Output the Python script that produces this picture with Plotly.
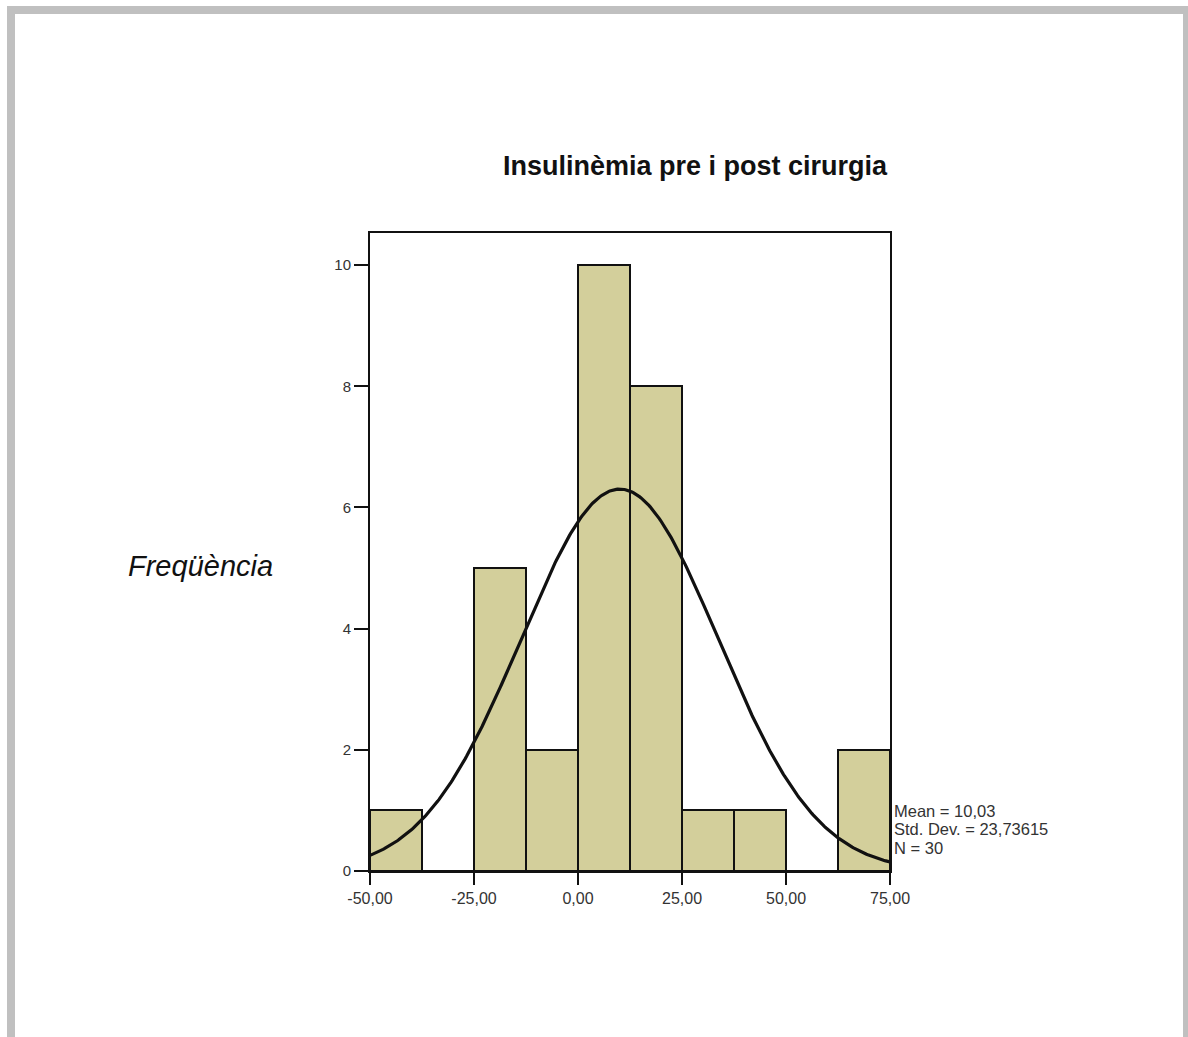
import numpy as np
import plotly.graph_objects as go

# Histogram bins (lower edges, width 12.5) and frequencies
bin_left = [-50.0, -37.5, -25.0, -12.5, 0.0, 12.5, 25.0, 37.5, 50.0, 62.5]
bin_width = 12.5
counts = [1, 0, 5, 2, 10, 8, 1, 1, 0, 2]

# Descriptive statistics shown beside the chart
mean_val = 10.03
std_dev = 23.73615
n_obs = 30

x_ticks = [-50, -25, 0, 25, 50, 75]
x_tick_text = ["-50,00", "-25,00", "0,00", "25,00", "50,00", "75,00"]
y_ticks = [0, 2, 4, 6, 8, 10]

W, H = 1188, 1037
L, R, T, B = 370, 890, 233, 871  # plot area in pixels


def px(x):
    return (x - L) / (R - L)


def py(y):
    return (B - y) / (B - T)


def comma(v, nd):
    return f"{v:.{nd}f}".replace(".", ",")


centers = [b + bin_width / 2 for b in bin_left]

# Fitted normal curve scaled to the histogram
xs = np.linspace(-50, 75, 400)
ys = n_obs * bin_width / (std_dev * np.sqrt(2 * np.pi)) * np.exp(-0.5 * ((xs - mean_val) / std_dev) ** 2)

fig = go.Figure()
fig.add_trace(go.Bar(
    x=centers, y=counts, width=bin_width,
    marker=dict(color="#d3cf9b", line=dict(color="#111111", width=2)),
    hoverinfo="skip",
))
fig.add_trace(go.Scatter(
    x=xs, y=ys, mode="lines",
    line=dict(color="#111111", width=3.2),
    hoverinfo="skip",
))

fig.update_layout(
    width=W, height=H,
    margin=dict(l=L, r=W - R, t=T, b=H - B, pad=0),
    paper_bgcolor="white", plot_bgcolor="white",
    showlegend=False,
    font=dict(family="Liberation Sans, Arial, sans-serif", color="#333333"),
    bargap=0,
)
fig.update_xaxes(
    range=[-50, 75], tickvals=x_ticks, ticktext=x_tick_text,
    ticks="outside", ticklen=12, tickwidth=1.6, tickcolor="#111111",
    showline=True, linecolor="#111111", linewidth=2, mirror=True,
    showgrid=False, zeroline=False,
    tickfont=dict(size=16, color="#333333"),
)
fig.update_yaxes(
    range=[0, 10.53], tickvals=y_ticks,
    ticks="outside", ticklen=14, tickwidth=1.6, tickcolor="#111111",
    showline=True, linecolor="#111111", linewidth=2, mirror=True,
    showgrid=False, zeroline=False,
    tickfont=dict(size=15, color="#333333"),
)

# Page frame
fig.add_shape(type="rect", xref="paper", yref="paper",
              x0=px(11), x1=px(1187), y0=py(1060), y1=py(10),
              line=dict(color="#c0c0c0", width=8), fillcolor="rgba(0,0,0,0)", layer="below")

annotations = [
    dict(text="<b>Insulinèmia pre i post cirurgia</b>", x=px(695), y=py(166),
         xanchor="center", yanchor="middle", font=dict(size=27, color="#111111")),
    dict(text="<i>Freqüència</i>", x=px(126), y=py(566),
         xanchor="left", yanchor="middle", font=dict(size=29, color="#111111")),
    dict(text=f"Mean = {comma(mean_val, 2)}", x=px(892), y=py(811),
         xanchor="left", yanchor="middle", font=dict(size=16.5, color="#333333")),
    dict(text=f"Std. Dev. = {comma(std_dev, 5)}", x=px(892), y=py(829),
         xanchor="left", yanchor="middle", font=dict(size=16.5, color="#333333")),
    dict(text=f"N = {n_obs}", x=px(892), y=py(848),
         xanchor="left", yanchor="middle", font=dict(size=16.5, color="#333333")),
]
for a in annotations:
    a.update(xref="paper", yref="paper", showarrow=False)
fig.update_layout(annotations=annotations)

fig.write_html("out.html")
